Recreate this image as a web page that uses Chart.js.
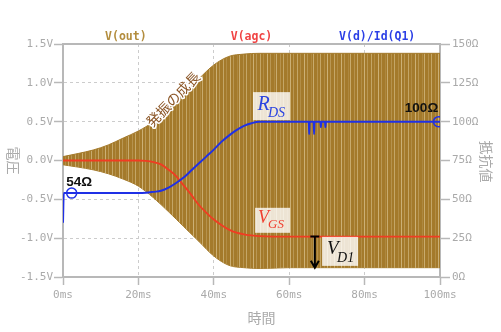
<!DOCTYPE html>
<html lang="ja">
<head>
    <meta charset="UTF-8">
    <title>発振の成長</title>
    <script src="https://cdn.jsdelivr.net/npm/chart.js"></script>
    <style>
        * {
            margin: 0;
            padding: 0;
        }
        body {
            background: #fff;
            overflow: hidden;
        }
        #chartContainer {
            width: 501px;
            height: 332px;
        }
    </style>
</head>
<body>
    <div id="chartContainer">
        <canvas id="oscChart"></canvas>
    </div>

    <script>
        // V(out): envelope of the oscillation (ms, V)
        const envTime  = [0, 4, 8, 12, 16, 20, 24, 28, 32, 36, 40, 44, 48, 52, 60, 80, 100];
        const envUpper = [0.05, 0.09, 0.135, 0.2, 0.29, 0.38, 0.5, 0.67, 0.86, 1.05, 1.23, 1.34, 1.37, 1.38, 1.38, 1.38, 1.38];
        const envLower = [-0.055, -0.085, -0.12, -0.17, -0.24, -0.33, -0.48, -0.66, -0.85, -1.04, -1.23, -1.35, -1.38, -1.39, -1.38, -1.38, -1.38];

        // V(agc) (ms, V)
        const agcTime = [0, 20, 22, 24, 26, 28, 30, 32, 34, 36, 38, 40, 42, 44, 46, 48, 50, 52, 56, 100];
        const agcVolt = [0, 0, -0.005, -0.02, -0.05, -0.12, -0.2, -0.32, -0.44, -0.57, -0.67, -0.76, -0.83, -0.89, -0.93, -0.95, -0.965, -0.975, -0.98, -0.98];

        // V(d)/Id(Q1) (ms, ohm)
        const rdsTime = [0, 0.2, 20, 22, 24, 26, 28, 30, 32, 34, 36, 38, 40, 42, 44, 46, 48, 50, 52, 56,
                         65.2, 65.3, 65.4, 66.5, 66.6, 66.7, 68.3, 68.4, 68.5, 69.5, 69.6, 69.7, 100];
        const rdsOhm  = [35, 54, 54, 54.2, 54.8, 55.5, 57.5, 60.5, 64, 68.5, 73, 77.5, 82, 87, 91, 94.5, 97.3, 99, 100, 100,
                         100, 92, 100, 100, 92, 100, 100, 96.5, 100, 100, 96.5, 100, 100];

        // marked points on V(d)/Id(Q1)
        const markTime = [2.3, 99.6];
        const markOhm  = [54, 100];

        const seriesNames = ['V(out)', 'V(agc)', 'V(d)/Id(Q1)'];
        const seriesColors = ['#b38d3e', '#f04444', '#2b3fe6'];

        const toPoints = (xs, ys) => xs.map((t, i) => ({ x: t, y: ys[i] }));

        // texture for the dense oscillation: a few uneven light streaks
        function makeBandPattern() {
            const c = document.createElement('canvas');
            c.width = 37;
            c.height = 1;
            const g = c.getContext('2d');
            g.fillStyle = '#a47a2b';
            g.fillRect(0, 0, 37, 1);
            const streaks = [[1, 0.45], [4, 0.2], [8, 0.55], [11, 0.3], [15, 0.15], [17, 0.5],
                             [21, 0.25], [24, 0.45], [28, 0.2], [31, 0.55], [34, 0.3]];
            streaks.forEach(([sx, a]) => {
                g.fillStyle = 'rgba(236, 220, 178, ' + a + ')';
                g.fillRect(sx, 0, 1, 1);
            });
            return g.createPattern(c, 'repeat');
        }

        const tickFont = { family: '"DejaVu Sans Mono", monospace', size: 11 };
        const axisGray = '#b8b8b8';

        function subLabel(ctx, cx, cy, main, sub, color, opt) {
            ctx.fillStyle = 'rgba(255, 255, 255, 0.8)';
            ctx.fillRect(cx - opt.w / 2, cy - opt.h / 2, opt.w, opt.h);
            ctx.fillStyle = color;
            ctx.textAlign = 'left';
            ctx.textBaseline = 'alphabetic';
            ctx.font = 'italic ' + opt.mainSize + 'px "Liberation Serif", serif';
            ctx.fillText(main, cx + opt.mx, cy + opt.my);
            ctx.font = 'italic ' + opt.subSize + 'px "Liberation Serif", serif';
            ctx.fillText(sub, cx + opt.sx, cy + opt.sy);
        }

        const overlayPlugin = {
            id: 'overlay',
            beforeDatasetsDraw(chart) {
                const { ctx, chartArea: a } = chart;
                ctx.save();
                ctx.strokeStyle = axisGray;
                ctx.lineWidth = 2;
                ctx.beginPath();
                ctx.moveTo(a.left, a.top);
                ctx.lineTo(a.right, a.top);
                ctx.stroke();
                ctx.restore();
            },
            afterDatasetsDraw(chart) {
                const { ctx, chartArea: a, scales: { x, y } } = chart;
                ctx.save();

                // growth note along the envelope
                ctx.save();
                ctx.translate(x.getPixelForValue(29.2), y.getPixelForValue(0.79));
                ctx.rotate(-46 * Math.PI / 180);
                ctx.font = '14px "Noto Sans CJK JP"';
                ctx.textAlign = 'center';
                ctx.textBaseline = 'middle';
                ctx.lineWidth = 3;
                ctx.strokeStyle = '#ffffff';
                ctx.lineJoin = 'round';
                ctx.strokeText('発振の成長', 0, 0);
                ctx.fillStyle = '#8a5424';
                ctx.fillText('発振の成長', 0, 0);
                ctx.restore();

                subLabel(ctx, x.getPixelForValue(55.3), y.getPixelForValue(0.70), 'R', 'DS', '#2b44e0',
                    { w: 37, h: 28, mainSize: 20, subSize: 14, mx: -14, my: 4, sx: -3.5, sy: 11 });
                subLabel(ctx, x.getPixelForValue(55.6), y.getPixelForValue(-0.77), 'V', 'GS', '#f04030',
                    { w: 35, h: 25, mainSize: 18, subSize: 13, mx: -14.5, my: 2.5, sx: -4.5, sy: 7.5 });
                subLabel(ctx, x.getPixelForValue(73.5), y.getPixelForValue(-1.17), 'V', 'D1', '#111111',
                    { w: 36, h: 29, mainSize: 19, subSize: 14, mx: -13, my: 2.5, sx: -3, sy: 10.5 });

                // V_D1 arrow
                const ax = x.getPixelForValue(66.8);
                const ay1 = y.getPixelForValue(-0.98);
                const ay2 = y.getPixelForValue(-1.38);
                ctx.strokeStyle = '#000';
                ctx.lineWidth = 2;
                ctx.beginPath();
                ctx.moveTo(ax - 4.5, ay1);
                ctx.lineTo(ax + 4.5, ay1);
                ctx.moveTo(ax, ay1);
                ctx.lineTo(ax, ay2);
                ctx.moveTo(ax - 4, ay2 - 7);
                ctx.lineTo(ax, ay2);
                ctx.lineTo(ax + 4, ay2 - 7);
                ctx.stroke();

                // resistance labels
                ctx.fillStyle = '#111';
                ctx.font = 'bold 13.5px "Liberation Sans", sans-serif';
                ctx.textAlign = 'center';
                ctx.textBaseline = 'middle';
                ctx.fillText('54Ω', x.getPixelForValue(4.3), y.getPixelForValue(-0.28));
                ctx.fillText('100Ω', x.getPixelForValue(95.1), y.getPixelForValue(0.67));

                ctx.restore();
            },
            afterDraw(chart) {
                const { ctx, chartArea: a } = chart;
                ctx.save();
                ctx.textAlign = 'center';
                ctx.textBaseline = 'middle';

                // legend across the top
                ctx.font = 'bold 11.5px "DejaVu Sans Mono", monospace';
                seriesNames.forEach((name, i) => {
                    ctx.fillStyle = seriesColors[i];
                    ctx.fillText(name, a.left + a.width * (2 * i + 1) / 6, 37);
                });

                // axis titles
                ctx.fillStyle = '#aaaaaa';
                ctx.font = '14px "Noto Sans CJK JP"';
                ctx.fillText('時間', (a.left + a.right) / 2 + 10, a.bottom + 41);
                const midY = (a.top + a.bottom) / 2;
                ctx.save();
                ctx.translate(13, midY);
                ctx.rotate(Math.PI / 2);
                ctx.fillText('電圧', 0, 0);
                ctx.restore();
                ctx.save();
                ctx.translate(486, midY + 1);
                ctx.rotate(Math.PI / 2);
                ctx.fillText('抵抗値', 0, 0);
                ctx.restore();

                ctx.restore();
            }
        };

        const ctx = document.getElementById('oscChart').getContext('2d');
        const oscChart = new Chart(ctx, {
            type: 'line',
            data: {
                datasets: [
                    {
                        label: 'V(out)',
                        data: toPoints(envTime, envUpper),
                        yAxisID: 'y',
                        borderColor: '#a47a2b',
                        borderWidth: 1,
                        backgroundColor: makeBandPattern(),
                        pointRadius: 0,
                        fill: '+1',
                        cubicInterpolationMode: 'monotone',
                        order: 3
                    },
                    {
                        label: 'V(out) low',
                        data: toPoints(envTime, envLower),
                        yAxisID: 'y',
                        borderColor: '#a47a2b',
                        borderWidth: 1,
                        pointRadius: 0,
                        fill: false,
                        cubicInterpolationMode: 'monotone',
                        order: 3
                    },
                    {
                        label: 'V(agc)',
                        data: toPoints(agcTime, agcVolt),
                        yAxisID: 'y',
                        borderColor: '#f03c22',
                        borderWidth: 1.8,
                        pointRadius: 0,
                        fill: false,
                        cubicInterpolationMode: 'monotone',
                        order: 2
                    },
                    {
                        label: 'V(d)/Id(Q1)',
                        data: toPoints(rdsTime, rdsOhm),
                        yAxisID: 'y2',
                        borderColor: '#1f30e6',
                        borderWidth: 2,
                        pointRadius: 0,
                        fill: false,
                        cubicInterpolationMode: 'monotone',
                        order: 1
                    },
                    {
                        label: 'marks',
                        data: toPoints(markTime, markOhm),
                        yAxisID: 'y2',
                        showLine: false,
                        pointRadius: 5,
                        pointStyle: 'circle',
                        pointBorderColor: '#1f30e6',
                        pointBackgroundColor: 'rgba(0, 0, 0, 0)',
                        pointBorderWidth: 1.5,
                        order: 0
                    }
                ]
            },
            options: {
                responsive: true,
                maintainAspectRatio: false,
                animation: false,
                events: [],
                layout: {
                    padding: { top: 44, left: 0, right: 0, bottom: 0 }
                },
                scales: {
                    x: {
                        type: 'linear',
                        min: 0,
                        max: 100,
                        afterFit: (s) => { s.height = 55; },
                        ticks: {
                            stepSize: 20,
                            padding: 4,
                            maxRotation: 0,
                            color: '#aaaaaa',
                            font: tickFont,
                            callback: (v) => v + 'ms'
                        },
                        grid: {
                            color: '#cccccc',
                            lineWidth: 1,
                            tickLength: 8,
                            tickColor: axisGray,
                            tickWidth: 1.5
                        },
                        border: { display: true, color: axisGray, width: 2, dash: [3, 3] }
                    },
                    y: {
                        position: 'left',
                        min: -1.5,
                        max: 1.5,
                        afterFit: (s) => { s.width = 63; },
                        ticks: {
                            stepSize: 0.5,
                            padding: 1,
                            color: '#aaaaaa',
                            font: tickFont,
                            callback: (v) => v.toFixed(1) + 'V'
                        },
                        grid: {
                            color: '#cccccc',
                            lineWidth: 1,
                            tickLength: 9,
                            tickColor: axisGray,
                            tickWidth: 1.5
                        },
                        border: { display: true, color: axisGray, width: 2, dash: [3, 3] }
                    },
                    y2: {
                        position: 'right',
                        min: 0,
                        max: 150,
                        afterFit: (s) => { s.width = 61; },
                        ticks: {
                            stepSize: 25,
                            padding: 2,
                            color: '#aaaaaa',
                            font: tickFont,
                            callback: (v) => v + 'Ω'
                        },
                        grid: {
                            drawOnChartArea: false,
                            tickLength: 10,
                            tickColor: axisGray,
                            tickWidth: 1.5
                        },
                        border: { display: true, color: axisGray, width: 2 }
                    }
                },
                plugins: {
                    legend: { display: false },
                    tooltip: { enabled: false }
                }
            },
            plugins: [overlayPlugin]
        });
    </script>
</body>
</html>
